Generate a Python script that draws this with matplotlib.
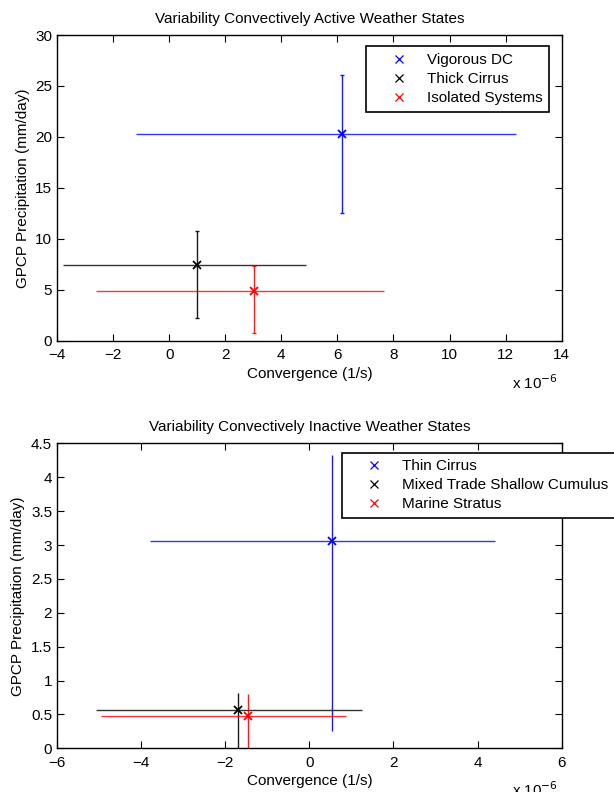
import matplotlib
matplotlib.use('Agg')
import matplotlib.pyplot as plt
import numpy as np

plt.rcParams['font.family'] = ['Liberation Sans', 'DejaVu Sans']

# active weather states (x in units of 1e-6 1/s, y in mm/day)
act_names = ['Vigorous DC', 'Thick Cirrus', 'Isolated Systems']
act_x = np.array([6.15, 1.01, 3.04])
act_y = np.array([20.25, 7.43, 4.85])
act_xmin = np.array([-1.17, -3.77, -2.62])
act_xmax = np.array([12.36, 4.88, 7.67])
act_ymin = np.array([12.56, 2.2, 0.79])
act_ymax = np.array([26.05, 10.77, 7.36])

# inactive weather states
ina_names = ['Thin Cirrus', 'Mixed Trade Shallow Cumulus', 'Marine Stratus']
ina_x = np.array([0.53, -1.70, -1.47])
ina_y = np.array([3.06, 0.56, 0.47])
ina_xmin = np.array([-3.80, -5.08, -4.95])
ina_xmax = np.array([4.41, 1.25, 0.87])
ina_ymin = np.array([0.25, -0.1, -0.1])
ina_ymax = np.array([4.33, 0.82, 0.80])

colors = ['#0000ff', '#000000', '#ff0000']


def panel(ax, names, x, y, xmin, xmax, ymin, ymax, capy):
    for i in range(len(names)):
        c = colors[i]
        ax.errorbar(x[i], y[i], xerr=[[x[i] - xmin[i]], [xmax[i] - x[i]]],
                    fmt='none', ecolor=c, elinewidth=1.0, capsize=0, alpha=0.8)
        ax.errorbar(x[i], y[i], yerr=[[y[i] - ymin[i]], [ymax[i] - y[i]]],
                    fmt='none', ecolor=c, elinewidth=1.0, capsize=capy, alpha=0.9)
        ax.plot(x[i], y[i], 'x', color=c, markersize=6, mew=1.3, label=names[i])
    ax.tick_params(direction='in', top=True, right=True, length=5, labelsize=11, width=0.8)
    ax.tick_params(axis='x', pad=5.5)
    for s in ax.spines.values():
        s.set_linewidth(1.0)
    ax.set_xlabel('Convergence (1/s)', fontsize=11, labelpad=3)
    ax.set_ylabel('GPCP Precipitation (mm/day)', fontsize=11, labelpad=4)
    ax.text(0.993, -0.105, r'x 10$^{-6}$', transform=ax.transAxes, ha='right', va='top', fontsize=11)


def legend(ax, **kw):
    leg = ax.legend(borderaxespad=0, fontsize=11, fancybox=False, edgecolor='black',
                    framealpha=1, handlelength=3.4, handletextpad=0.1, borderpad=0.45,
                    labelspacing=0.33, markerscale=0.9, **kw)
    leg.get_frame().set_linewidth(1.2)
    for h in leg.legend_handles:
        h.set_markeredgewidth(0.9)
    return leg


fig = plt.figure(figsize=(6.14, 7.92), dpi=100)

ax1 = fig.add_axes([0.0928, 0.5698, 0.822, 0.386])
panel(ax1, act_names, act_x, act_y, act_xmin, act_xmax, act_ymin, act_ymax, 1.5)
ax1.set_xlim(-4, 14)
ax1.set_ylim(0, 30)
ax1.set_xticks(np.arange(-4, 15, 2))
ax1.set_yticks(np.arange(0, 31, 5))
ax1.set_title('Variability Convectively Active Weather States', fontsize=11, pad=9)
legend(ax1, loc='upper right', bbox_to_anchor=(0.975, 0.964))

ax2 = fig.add_axes([0.0928, 0.0552, 0.822, 0.385])
panel(ax2, ina_names, ina_x, ina_y, ina_xmin, ina_xmax, ina_ymin, ina_ymax, 0)
ax2.set_xlim(-6, 6)
ax2.set_ylim(0, 4.5)
ax2.set_xticks(np.arange(-6, 7, 2))
ax2.set_yticks(np.arange(0, 4.51, 0.5))
ax2.set_yticklabels(['0', '0.5', '1', '1.5', '2', '2.5', '3', '3.5', '4', '4.5'])
ax2.set_title('Variability Convectively Inactive Weather States', fontsize=11, pad=9)
legend(ax2, loc='upper left', bbox_to_anchor=(0.564, 0.970))

fig.savefig('out.png', dpi=100)
